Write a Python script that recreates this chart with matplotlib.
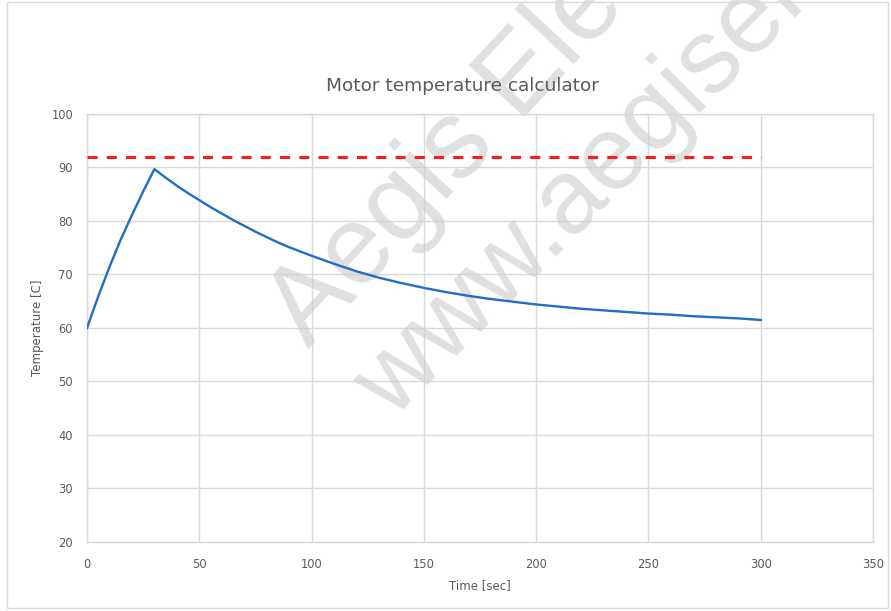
import numpy as np
import matplotlib
matplotlib.use('Agg')
import matplotlib.pyplot as plt
from matplotlib.patches import Rectangle

# time [sec] and motor temperature [C]
time = [0, 5, 10, 15, 20, 25, 30, 35, 40, 45, 50, 55, 60, 65, 70, 75, 80, 85,
        90, 95, 100, 110, 120, 130, 140, 150, 160, 170, 180, 190, 200, 210,
        220, 230, 240, 250, 260, 270, 280, 290, 300]
temp = [60.0, 65.9, 71.4, 76.5, 81.1, 85.5, 89.7, 88.1, 86.6, 85.2, 83.9,
        82.6, 81.4, 80.2, 79.1, 78.0, 77.0, 76.0, 75.1, 74.3, 73.5, 72.0,
        70.6, 69.4, 68.4, 67.5, 66.7, 66.0, 65.4, 64.9, 64.4, 64.0, 63.6,
        63.3, 63.0, 62.7, 62.5, 62.2, 62.0, 61.8, 61.5]
limit_x = [0, 300]
limit_y = [92, 92]

xticks = [0, 50, 100, 150, 200, 250, 300, 350]
yticks = [20, 30, 40, 50, 60, 70, 80, 90, 100]

W, H = 891, 611
fig = plt.figure(figsize=(W/100.0, H/100.0), dpi=100)
ax = fig.add_axes([87.0/W, 1-542.0/H, (873.0-87)/W, (542.0-114)/H])

ax.plot(limit_x, limit_y, color='#ff1a1a', lw=2.2, dashes=(3.3, 3.0), zorder=3)
ax.plot(time, temp, color='#1f6fc4', lw=1.7, zorder=4)

ax.set_xlim(0, 350)
ax.set_ylim(20, 100)
ax.set_xticks(xticks)
ax.set_yticks(yticks)
ax.grid(True, color='#d9d9d9', lw=1.0)
ax.set_axisbelow(True)
for s in ax.spines.values():
    s.set_color('#d9d9d9')
    s.set_linewidth(1.0)
ax.tick_params(length=0, colors='#595959', labelsize=8.3)
ax.tick_params(axis='x', pad=11.5)
ax.tick_params(axis='y', pad=10)

fig.text(462.0/W, 1-86.0/H, 'Motor temperature calculator', ha='center', va='center',
         fontsize=13.3, color='#595959')
fig.text(480.0/W, 1-586.0/H, 'Time [sec]', ha='center', va='center',
         fontsize=8.5, color='#595959')
fig.text(37.0/W, 1-328.0/H, 'Temperature [C]', ha='center', va='center',
         rotation=90, fontsize=8.5, color='#595959')

# watermark (over the grid, under the curves)
wm = dict(ha='left', va='baseline', rotation_mode='anchor', color='#cccccc',
          alpha=0.6, zorder=2.5, family='Liberation Sans',
          transform=fig.transFigure, clip_on=False)
ax.text(308.0/W, 1-349.0/H, 'Aegis Electronic Group', rotation=47,
        fontsize=80, **wm)
ax.text(393.0/W, 1-420.0/H, 'www.aegiselect.com', rotation=45,
        fontsize=76, **wm)

# outer frame
fig.patches.append(Rectangle((7.0/W, 3.0/H), (888.0-7)/W, (609.0-3)/H,
                             transform=fig.transFigure, fill=False,
                             edgecolor='#d9d9d9', lw=1.0))

fig.savefig('out.png', dpi=100, facecolor='white')
